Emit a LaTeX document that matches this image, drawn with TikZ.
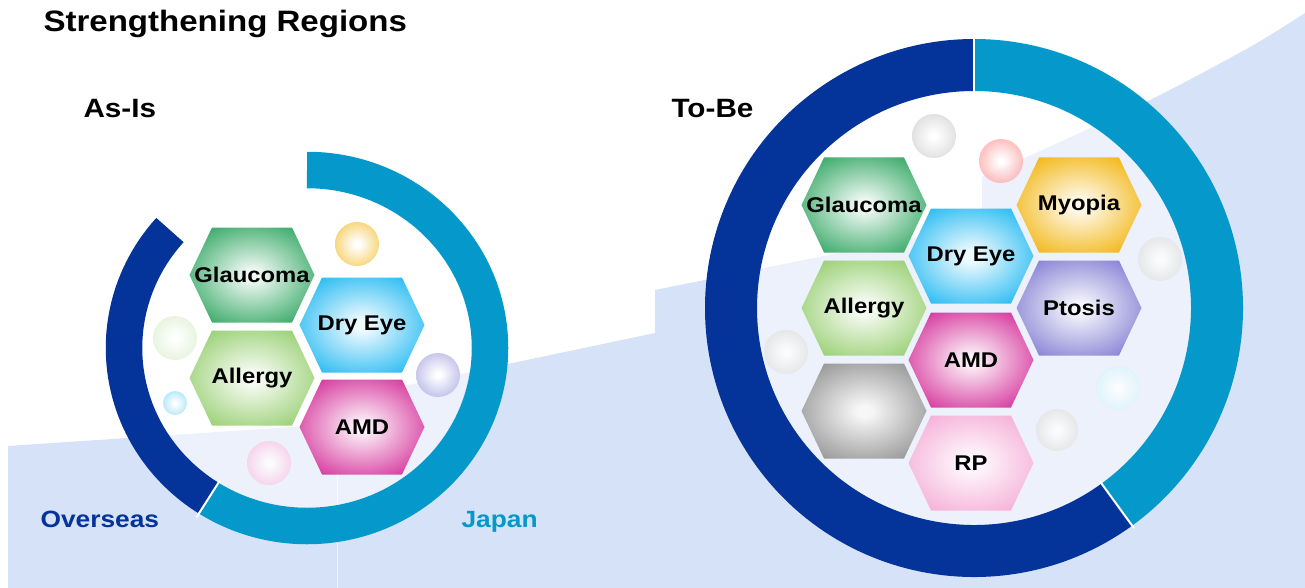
\documentclass[tikz,border=0pt]{standalone}
\usepackage{fontspec}
\setmainfont{Liberation Sans}[FakeStretch=1.12]

\definecolor{overseasblue}{HTML}{04339A}
\definecolor{japanblue}{HTML}{0499CA}
\definecolor{bgblue}{HTML}{D6E2F8}
\definecolor{glaucomagreen}{HTML}{35A865}
\definecolor{dryeyecyan}{HTML}{25BAF2}
\definecolor{allergygreen}{HTML}{98CF72}
\definecolor{amdmagenta}{HTML}{D5359C}
\definecolor{myopiagold}{HTML}{F2B612}
\definecolor{ptosisviolet}{HTML}{8580D4}
\definecolor{blankgray}{HTML}{959595}
\definecolor{rppink}{HTML}{F5AED8}
\colorlet{glowin}{white}
\colorlet{glowout}{gray}
\pgfdeclareradialshading[glowin,glowout]{glow}{\pgfpointorigin}{%
  color(0bp)=(glowin); color(3bp)=(glowin); color(31bp)=(glowout); color(50bp)=(glowout)}

\begin{document}
\begin{tikzpicture}[
        x=1pt,
        y=-1pt,
        font=\bfseries,
        ring/.style={line width=#1},
        sep/.style={white, line width=2pt},
        hexcell/.style={/utils/exec={\colorlet{glowin}{white!92!#1}\colorlet{glowout}{#1}}, shading=glow},
        bubble/.style={/utils/exec={\colorlet{glowin}{white}\colorlet{glowout}{#1}}, shading=glow, opacity=0.8},
        hexlabel/.style={font=\bfseries\fontsize{21.3}{24}\selectfont, text=black},
        heading/.style={anchor=base west, font=\bfseries\fontsize{26.5}{30}\selectfont},
        region/.style={anchor=base west, font=\bfseries\fontsize{23.5}{26}\selectfont}
    ]
        \useasboundingbox (0,0) rectangle (1305,588);
        \fill[white] (0,0) rectangle (1305,588);
        \fill[bgblue] (8,588) -- (8,446) -- (337,424) -- (337,400) -- (655,333) -- (655,290)
            -- (982,224) -- (982,177)
            -- plot[smooth] coordinates {(982,177) (1027,157) (1150,100) (1250,47) (1305,13)}
            -- (1305,588) -- cycle;
        \draw[white, opacity=0.6, line width=0.8pt] (337,424) -- (337,588);

        \coordinate (asis) at (307,348);
        \coordinate (tobe) at (974,308);

        \fill[white, opacity=0.55] (asis) ellipse[x radius=164, y radius=160];
        \fill[white, opacity=0.55] (tobe) circle[radius=217];

        \draw[ring=36.5pt, japanblue] (asis) ++(-90:183 and 178)
            arc[start angle=-90, end angle=122.5, x radius=183, y radius=178];
        \draw[ring=36.5pt, overseasblue] (asis) ++(122.5:183 and 178)
            arc[start angle=122.5, end angle=221.5, x radius=183, y radius=178];
        \draw[sep] (asis) ++(122.5:162 and 157) -- ++(122.5:44);

        \draw[ring=52pt, japanblue] (tobe) ++(-90:243)
            arc[start angle=-90, end angle=54, radius=243];
        \draw[ring=52pt, overseasblue] (tobe) ++(54:243)
            arc[start angle=54, end angle=270, radius=243];
        \draw[sep] (tobe) ++(-90:214) -- ++(-90:58);
        \draw[sep] (tobe) ++(54:214) -- ++(54:58);

        \foreach \bx/\by/\br/\bcol in {
            357/244/22/myopiagold!85, 175/338/22/allergygreen!35, 175/403/12/dryeyecyan!50,
            438/375/22/ptosisviolet!70, 269/463/22/rppink!75,
            934/136/22/black!18, 1001/161/22/red!40, 1160/259/22/black!13,
            786/352/22/black!13, 1118/388/22/dryeyecyan!20, 1057/430/21/black!13} {
            \shade[bubble=\bcol] (\bx,\by) circle[radius=\br];
        }

        \foreach \cx/\cy/\col/\lab/\nm in {
            252/275/glaucomagreen/Glaucoma/asisglaucoma,
            362/325/dryeyecyan/Dry Eye/asisdryeye,
            252/378/allergygreen/Allergy/asisallergy,
            362/427/amdmagenta/AMD/asisamd,
            864/205/glaucomagreen/Glaucoma/tobeglaucoma,
            971/256/dryeyecyan/Dry Eye/tobedryeye,
            1079/205/myopiagold/Myopia/tobemyopia,
            864/308/allergygreen/Allergy/tobeallergy,
            1079/308/ptosisviolet/Ptosis/tobeptosis,
            971/360/amdmagenta/AMD/tobeamd,
            864/411/blankgray//tobeblank,
            971/463/rppink/RP/toberp} {
            \shade[hexcell=\col] (\cx-62.5,\cy) -- (\cx-40,\cy-47.5) -- (\cx+40,\cy-47.5)
                -- (\cx+62.5,\cy) -- (\cx+40,\cy+47.5) -- (\cx-40,\cy+47.5) -- cycle;
            \node[hexlabel] (\nm) at (\cx,\cy) {\lab};
        }

        \node[heading, font=\bfseries\fontsize{29.5}{32}\selectfont] (title) at (40,32) {Strengthening Regions};
        \node[heading] (asislabel) at (80,118) {As-Is};
        \node[heading] (tobelabel) at (668,118) {To-Be};
        \node[region, text=overseasblue] (overseaslabel) at (37,527) {Overseas};
        \node[region, text=japanblue] (japanlabel) at (458,527) {Japan};
    \end{tikzpicture}
\end{document}
